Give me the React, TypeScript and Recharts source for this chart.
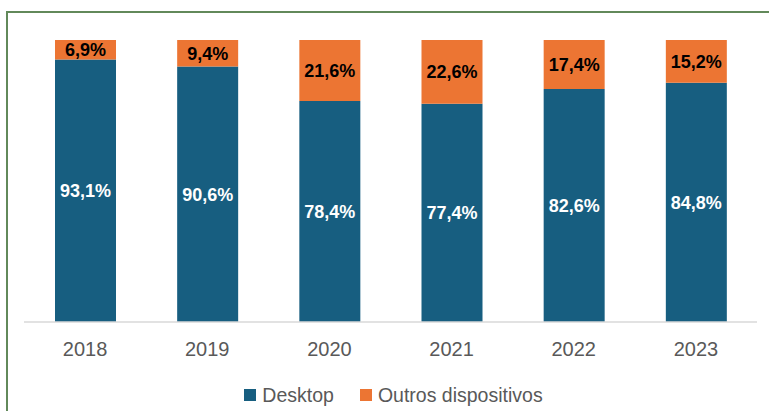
import { BarChart, Bar, XAxis, YAxis, Legend, LabelList } from "recharts"

const years = ["2018", "2019", "2020", "2021", "2022", "2023"]
const desktop = [93.1, 90.6, 78.4, 77.4, 82.6, 84.8]
const outros = [6.9, 9.4, 21.6, 22.6, 17.4, 15.2]

const data = years.map((year, i) => ({ year, desktop: desktop[i], outros: outros[i] }))

const BLUE = "#175e80"
const ORANGE = "#ec7533"
const FONT = "'Liberation Sans', Arial, sans-serif"

const fmt = (v: any) => `${Number(v).toFixed(1).replace(".", ",")}%`

function LegendContent() {
  const items = [
    { label: "Desktop", color: BLUE },
    { label: "Outros dispositivos", color: ORANGE },
  ]
  return (
    <div style={{ display: "flex", justifyContent: "center", alignItems: "center", height: 28, paddingLeft: 6 }}>
      {items.map((it, i) => (
        <div key={it.label} style={{ display: "flex", alignItems: "center", marginLeft: i ? 26 : 0 }}>
          <span style={{ width: 12, height: 12, background: it.color, display: "inline-block", marginRight: 6 }} />
          <span style={{ fontSize: 19.5, color: "#595959", fontFamily: FONT }}>{it.label}</span>
        </div>
      ))}
    </div>
  )
}

export default function App() {
  return (
    <div style={{ position: "absolute", left: 0, top: 0, width: 769, height: 411, background: "#fff" }}>
      <div
        style={{
          position: "absolute",
          left: 6,
          top: 11,
          width: 763,
          height: 400,
          borderLeft: "2px solid #62895a",
          borderTop: "2px solid #62895a",
          boxSizing: "border-box",
        }}
      />
      <div style={{ position: "absolute", left: 0, top: 0 }}>
        <BarChart
          width={769}
          height={411}
          data={data}
          margin={{ top: 40, right: 12, bottom: 2, left: 24 }}
          style={{ fontFamily: FONT }}
        >
          <XAxis
            dataKey="year"
            height={59}
            axisLine={{ stroke: "#d9d9d9", strokeWidth: 1.5 }}
            tickLine={false}
            tickMargin={14}
            tick={{ fill: "#595959", fontSize: 20 }}
          />
          <YAxis hide domain={[0, 100]} />
          <Legend verticalAlign="bottom" wrapperStyle={{ bottom: 2 }} content={<LegendContent />} />
          <Bar dataKey="desktop" stackId="a" fill={BLUE} barSize={61} isAnimationActive={false}>
            <LabelList dataKey="desktop" position="center" fill="#ffffff" fontSize={18} fontWeight="bold" formatter={fmt} />
          </Bar>
          <Bar dataKey="outros" stackId="a" fill={ORANGE} barSize={61} isAnimationActive={false}>
            <LabelList dataKey="outros" position="center" fill="#000000" fontSize={18} fontWeight="bold" formatter={fmt} />
          </Bar>
        </BarChart>
      </div>
    </div>
  )
}
